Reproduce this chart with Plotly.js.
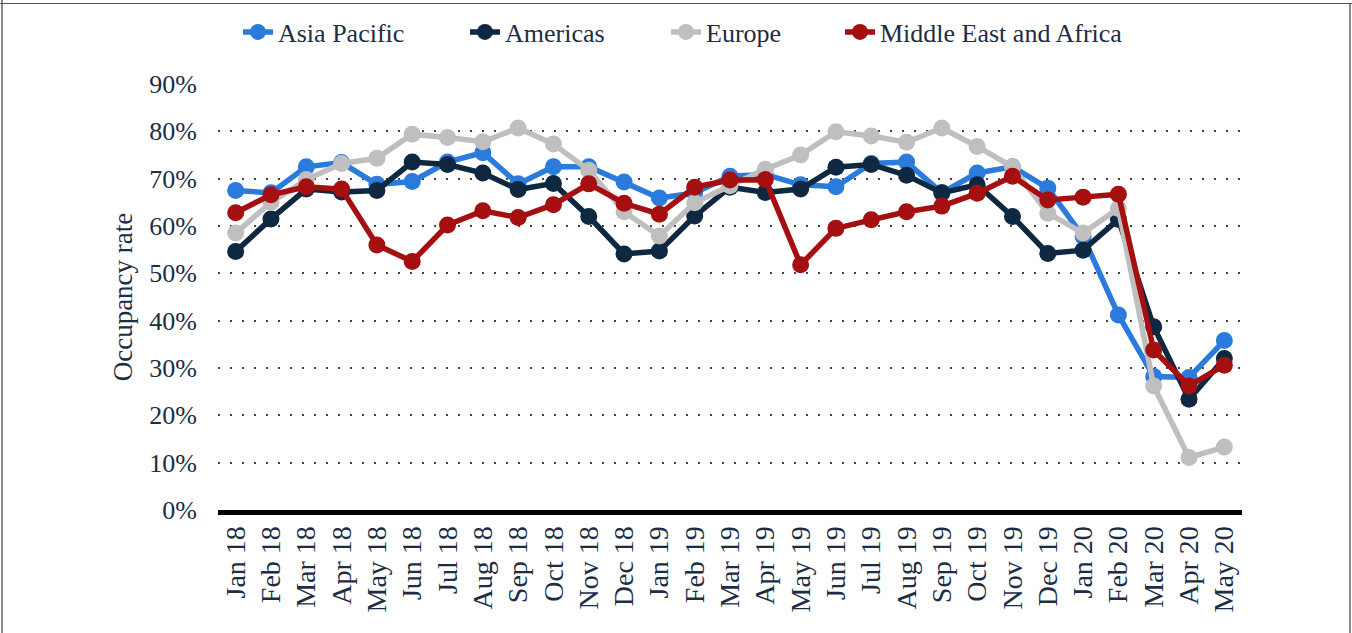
<!DOCTYPE html>
<html>
<head>
<meta charset="utf-8">
<script src="https://cdn.plot.ly/plotly-3.0.1.min.js"></script>
<style>
  html, body { margin: 0; padding: 0; background: #ffffff; }
  #wrap { position: relative; width: 1352px; height: 633px; overflow: hidden; }
  #chart { width: 1352px; height: 633px; }
  .frame { position: absolute; pointer-events: none; }
</style>
</head>
<body>
<div id="wrap">
  <div id="chart"></div>
  <div class="frame" style="left:1px;top:0;width:2px;height:633px;background:#8c8c8c;"></div>
  <div class="frame" style="left:1349px;top:3px;width:2px;height:630px;background:#8c8c8c;"></div>
  <div class="frame" style="left:0;top:3px;width:1352px;height:1px;background:#555555;"></div>
</div>
<script>
const months = ['Jan 18','Feb 18','Mar 18','Apr 18','May 18','Jun 18','Jul 18','Aug 18','Sep 18','Oct 18','Nov 18','Dec 18',
                'Jan 19','Feb 19','Mar 19','Apr 19','May 19','Jun 19','Jul 19','Aug 19','Sep 19','Oct 19','Nov 19','Dec 19',
                'Jan 20','Feb 20','Mar 20','Apr 20','May 20'];

const asiaPacific = [67.5, 67.0, 72.5, 73.4, 68.8, 69.4, 73.5, 75.5, 68.9, 72.5, 72.5, 69.3,
                     65.9, 67.0, 70.5, 70.9, 68.7, 68.3, 73.2, 73.5, 67.0, 71.2, 72.5, 68.0,
                     57.8, 41.2, 28.2, 28.0, 35.8];
const americas    = [54.6, 61.5, 67.8, 67.2, 67.5, 73.5, 73.0, 71.2, 67.7, 69.0, 62.0, 54.1,
                     54.7, 62.1, 68.2, 67.1, 67.8, 72.4, 73.0, 70.7, 67.0, 68.7, 62.0, 54.2,
                     54.9, 61.4, 38.7, 23.4, 32.0];
const europe      = [58.5, 65.0, 69.8, 73.2, 74.3, 79.4, 78.7, 77.8, 80.7, 77.3, 71.8, 63.0,
                     57.9, 64.9, 68.5, 72.0, 75.0, 79.9, 79.0, 77.7, 80.7, 76.8, 72.5, 62.7,
                     58.5, 63.7, 26.2, 11.1, 13.3];
const mea         = [62.8, 66.6, 68.3, 67.8, 56.0, 52.5, 60.2, 63.2, 61.8, 64.5, 68.9, 64.8,
                     62.5, 68.2, 69.7, 69.8, 51.8, 59.5, 61.3, 63.0, 64.2, 66.9, 70.5, 65.5,
                     66.1, 66.7, 33.8, 26.2, 30.6];

const yTickValues = [0, 10, 20, 30, 40, 50, 60, 70, 80, 90];
const yTickLabels = ['0%', '10%', '20%', '30%', '40%', '50%', '60%', '70%', '80%', '90%'];

const seriesNames = ['Asia Pacific', 'Americas', 'Europe', 'Middle East and Africa'];
const seriesData = [asiaPacific, americas, europe, mea];
const seriesColors = ['#2b7bdc', '#0e2841', '#bfbfbf', '#a50f0f'];
const legendIds = ['legend', 'legend2', 'legend3', 'legend4'];
const legendX = [0.0195, 0.2412, 0.4375, 0.6074];

const FONT = "'Liberation Serif', 'Times New Roman', serif";
const TEXTCOL = '#1d2d44';

const traces = seriesNames.map((name, i) => ({
  type: 'scatter',
  mode: 'lines+markers',
  name: name,
  x: months,
  y: seriesData[i],
  line: { color: seriesColors[i], width: 5.5 },
  marker: { color: seriesColors[i], size: 17 },
  legend: legendIds[i],
  hoverinfo: 'skip'
}));

const layout = {
  width: 1352,
  height: 633,
  paper_bgcolor: '#ffffff',
  plot_bgcolor: '#ffffff',
  margin: { l: 218, r: 110, t: 84, b: 123, autoexpand: false },
  font: { family: FONT, color: TEXTCOL, size: 26 },
  xaxis: {
    type: 'category',
    range: [-0.5, 28.5],
    tickangle: -90,
    tickfont: { family: FONT, size: 28, color: TEXTCOL },
    showgrid: false,
    zeroline: false,
    showline: true,
    linecolor: '#000000',
    linewidth: 5,
    ticks: '',
    automargin: false
  },
  yaxis: {
    range: [0, 90],
    tickmode: 'array',
    tickvals: yTickValues,
    ticktext: yTickLabels,
    tickfont: { family: FONT, size: 26, color: TEXTCOL },
    showgrid: true,
    gridcolor: '#444444',
    gridwidth: 2,
    griddash: '2px,10px',
    zeroline: false,
    showline: false,
    ticks: '',
    ticklabelstandoff: 20,
    automargin: false,
    title: { text: 'Occupancy rate', font: { family: FONT, size: 27, color: TEXTCOL }, standoff: 8 }
  },
  showlegend: true
};

legendIds.forEach((id, i) => {
  layout[id] = {
    orientation: 'h',
    x: legendX[i],
    xanchor: 'left',
    y: 1.122,
    yanchor: 'middle',
    bgcolor: 'rgba(0,0,0,0)',
    font: { family: FONT, size: 26, color: TEXTCOL },
    itemclick: false,
    itemdoubleclick: false
  };
});

Plotly.newPlot('chart', traces, layout, { displayModeBar: false, staticPlot: true });
</script>
</body>
</html>
